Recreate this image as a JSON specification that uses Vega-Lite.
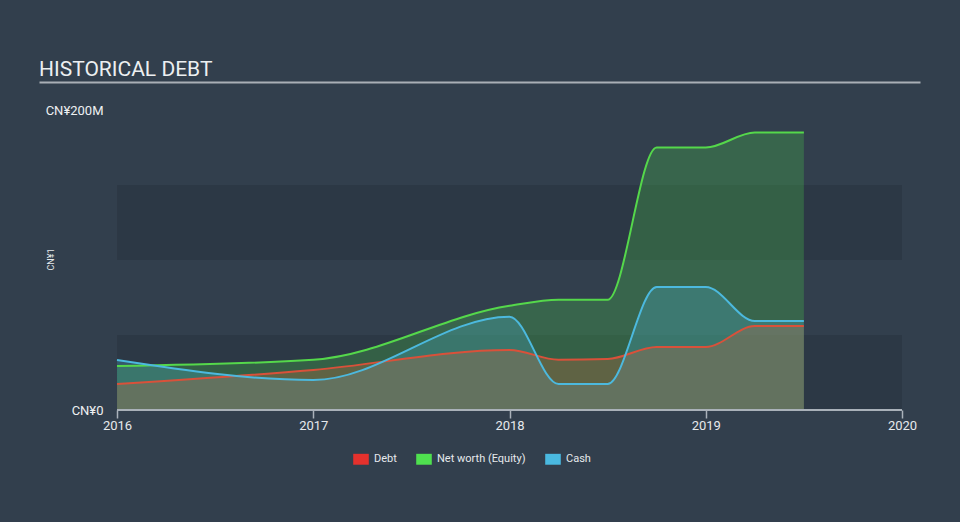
{
  "$schema": "https://vega.github.io/schema/vega-lite/v6.json",
  "width": 881,
  "height": 328,
  "autosize": {"type": "none"},
  "padding": {"left": 39, "top": 82, "right": 40, "bottom": 112},
  "background": "#323f4d",
  "title": {"text": "HISTORICAL DEBT", "anchor": "start", "font": "Roboto", "fontSize": 21, "fontWeight": "normal", "color": "#eceff1", "offset": 2},
  "config": {"view": {"stroke": null}},
  "datasets": {
    "hist": [
      {"t": 2016.0, "s": "Debt", "v": 17.3},
      {"t": 2017.0, "s": "Debt", "v": 26.7},
      {"t": 2018.0, "s": "Debt", "v": 40},
      {"t": 2018.25, "s": "Debt", "v": 33.5},
      {"t": 2018.5, "s": "Debt", "v": 34},
      {"t": 2018.75, "s": "Debt", "v": 42},
      {"t": 2019.0, "s": "Debt", "v": 42},
      {"t": 2019.25, "s": "Debt", "v": 56},
      {"t": 2019.5, "s": "Debt", "v": 56},
      {"t": 2016.0, "s": "Net worth (Equity)", "v": 29.3},
      {"t": 2017.0, "s": "Net worth (Equity)", "v": 33.5},
      {"t": 2018.0, "s": "Net worth (Equity)", "v": 69.5},
      {"t": 2018.25, "s": "Net worth (Equity)", "v": 73.5},
      {"t": 2018.5, "s": "Net worth (Equity)", "v": 73.5},
      {"t": 2018.75, "s": "Net worth (Equity)", "v": 175},
      {"t": 2019.0, "s": "Net worth (Equity)", "v": 175},
      {"t": 2019.25, "s": "Net worth (Equity)", "v": 185},
      {"t": 2019.5, "s": "Net worth (Equity)", "v": 185},
      {"t": 2016.0, "s": "Cash", "v": 33.3},
      {"t": 2017.0, "s": "Cash", "v": 20},
      {"t": 2018.0, "s": "Cash", "v": 62.2},
      {"t": 2018.25, "s": "Cash", "v": 17.3},
      {"t": 2018.5, "s": "Cash", "v": 17.3},
      {"t": 2018.75, "s": "Cash", "v": 82},
      {"t": 2019.0, "s": "Cash", "v": 82},
      {"t": 2019.25, "s": "Cash", "v": 59.3},
      {"t": 2019.5, "s": "Cash", "v": 59.3}
    ]
  },
  "data": {"name": "hist"},
  "resolve": {"axis": {"x": "independent", "y": "independent"}},
  "layer": [
    {
      "data": {"values": [{"lo": 0, "hi": 50}, {"lo": 100, "hi": 150}]},
      "mark": {"type": "rect", "color": "#000000", "opacity": 0.1},
      "encoding": {
        "x": {"datum": 2016, "type": "quantitative", "scale": {"domain": [2015.6025, 2020.0917], "nice": false, "zero": false},
              "axis": {"orient": "top", "domain": true, "domainColor": "#a9afb6", "domainWidth": 2, "ticks": false, "labels": false, "grid": false, "title": null}},
        "x2": {"datum": 2020},
        "y": {"field": "lo", "type": "quantitative", "scale": {"domain": [0, 218.67], "nice": false},
              "axis": {"orient": "left", "offset": -78, "values": [0, 200], "labelExpr": "datum.value == 0 ? 'CN¥0' : 'CN¥' + datum.value + 'M'", "domain": false, "ticks": false, "grid": false, "labelPadding": 14, "labelFont": "Roboto", "labelFontSize": 13, "labelColor": "#eef0f2", "title": "CN¥1", "titleAngle": -90, "titleX": -67, "titleY": 177, "titleAlign": "center", "titleBaseline": "middle", "titleFont": "Roboto", "titleFontSize": 9, "titleFontWeight": "normal", "titleColor": "#e6e9ec"}},
        "y2": {"field": "hi"}
      }
    },
    {
      "transform": [{"filter": "datum.s == 'Net worth (Equity)'"}],
      "mark": {"type": "area", "interpolate": "monotone", "color": "#4cd64c", "fillOpacity": 0.25},
      "encoding": {
        "x": {"field": "t", "type": "quantitative", "axis": null},
        "y": {"field": "v", "type": "quantitative", "axis": null}
      }
    },
    {
      "transform": [{"filter": "datum.s == 'Cash'"}],
      "mark": {"type": "area", "interpolate": "monotone", "color": "#4ab9e0", "fillOpacity": 0.25},
      "encoding": {
        "x": {"field": "t", "type": "quantitative", "axis": null},
        "y": {"field": "v", "type": "quantitative", "axis": null}
      }
    },
    {
      "transform": [{"filter": "datum.s == 'Debt'"}],
      "mark": {"type": "area", "interpolate": "monotone", "color": "#c46a42", "fillOpacity": 0.3},
      "encoding": {
        "x": {"field": "t", "type": "quantitative", "axis": null},
        "y": {"field": "v", "type": "quantitative", "axis": null}
      }
    },
    {
      "transform": [{"filter": "datum.s == 'Debt'"}],
      "mark": {"type": "line", "interpolate": "monotone", "color": "#d9513a", "strokeWidth": 2},
      "encoding": {
        "x": {"field": "t", "type": "quantitative", "axis": null},
        "y": {"field": "v", "type": "quantitative", "axis": null}
      }
    },
    {
      "transform": [{"filter": "datum.s == 'Net worth (Equity)'"}],
      "mark": {"type": "line", "interpolate": "monotone", "color": "#55d84b", "strokeWidth": 2},
      "encoding": {
        "x": {"field": "t", "type": "quantitative", "axis": null},
        "y": {"field": "v", "type": "quantitative", "axis": null}
      }
    },
    {
      "transform": [{"filter": "datum.s == 'Cash'"}],
      "mark": {"type": "line", "interpolate": "monotone", "color": "#4cb9de", "strokeWidth": 2},
      "encoding": {
        "x": {"field": "t", "type": "quantitative", "axis": null},
        "y": {"field": "v", "type": "quantitative", "axis": null}
      }
    },
    {
      "mark": {"type": "rule", "color": "#aab2ba", "strokeWidth": 1.5},
      "encoding": {
        "x": {"datum": 2016, "type": "quantitative",
              "axis": {"orient": "bottom", "domain": false, "ticks": true, "values": [2016, 2017, 2018, 2019, 2020], "format": "d", "tickSize": 8, "tickColor": "#aab2ba", "tickWidth": 1.5, "labelFont": "Roboto", "labelFontSize": 13, "labelColor": "#e6e9ec", "labelPadding": 1, "labelFlush": false, "grid": false, "title": null}},
        "x2": {"datum": 2020},
        "y": {"datum": 0, "type": "quantitative", "axis": null}
      }
    },
    {
      "mark": {"type": "point", "shape": "square", "filled": true, "opacity": 0},
      "encoding": {
        "x": {"field": "t", "type": "quantitative", "axis": null},
        "y": {"field": "v", "type": "quantitative", "axis": null},
        "color": {"field": "s", "type": "nominal",
                  "scale": {"domain": ["Debt", "Net worth (Equity)", "Cash"], "range": ["#e5312d", "#4fe04f", "#4ab9e0"]},
                  "legend": {"orient": "none", "legendX": 314, "legendY": 369, "direction": "horizontal", "title": null, "symbolType": "M-1,-0.7H1V0.7H-1Z", "symbolSize": 243, "symbolOpacity": 1, "symbolStrokeWidth": 0, "labelFont": "Roboto", "labelFontSize": 11, "labelColor": "#e6e9ec", "labelOffset": 5, "columnPadding": 19, "padding": 0}}
      }
    }
  ]
}
